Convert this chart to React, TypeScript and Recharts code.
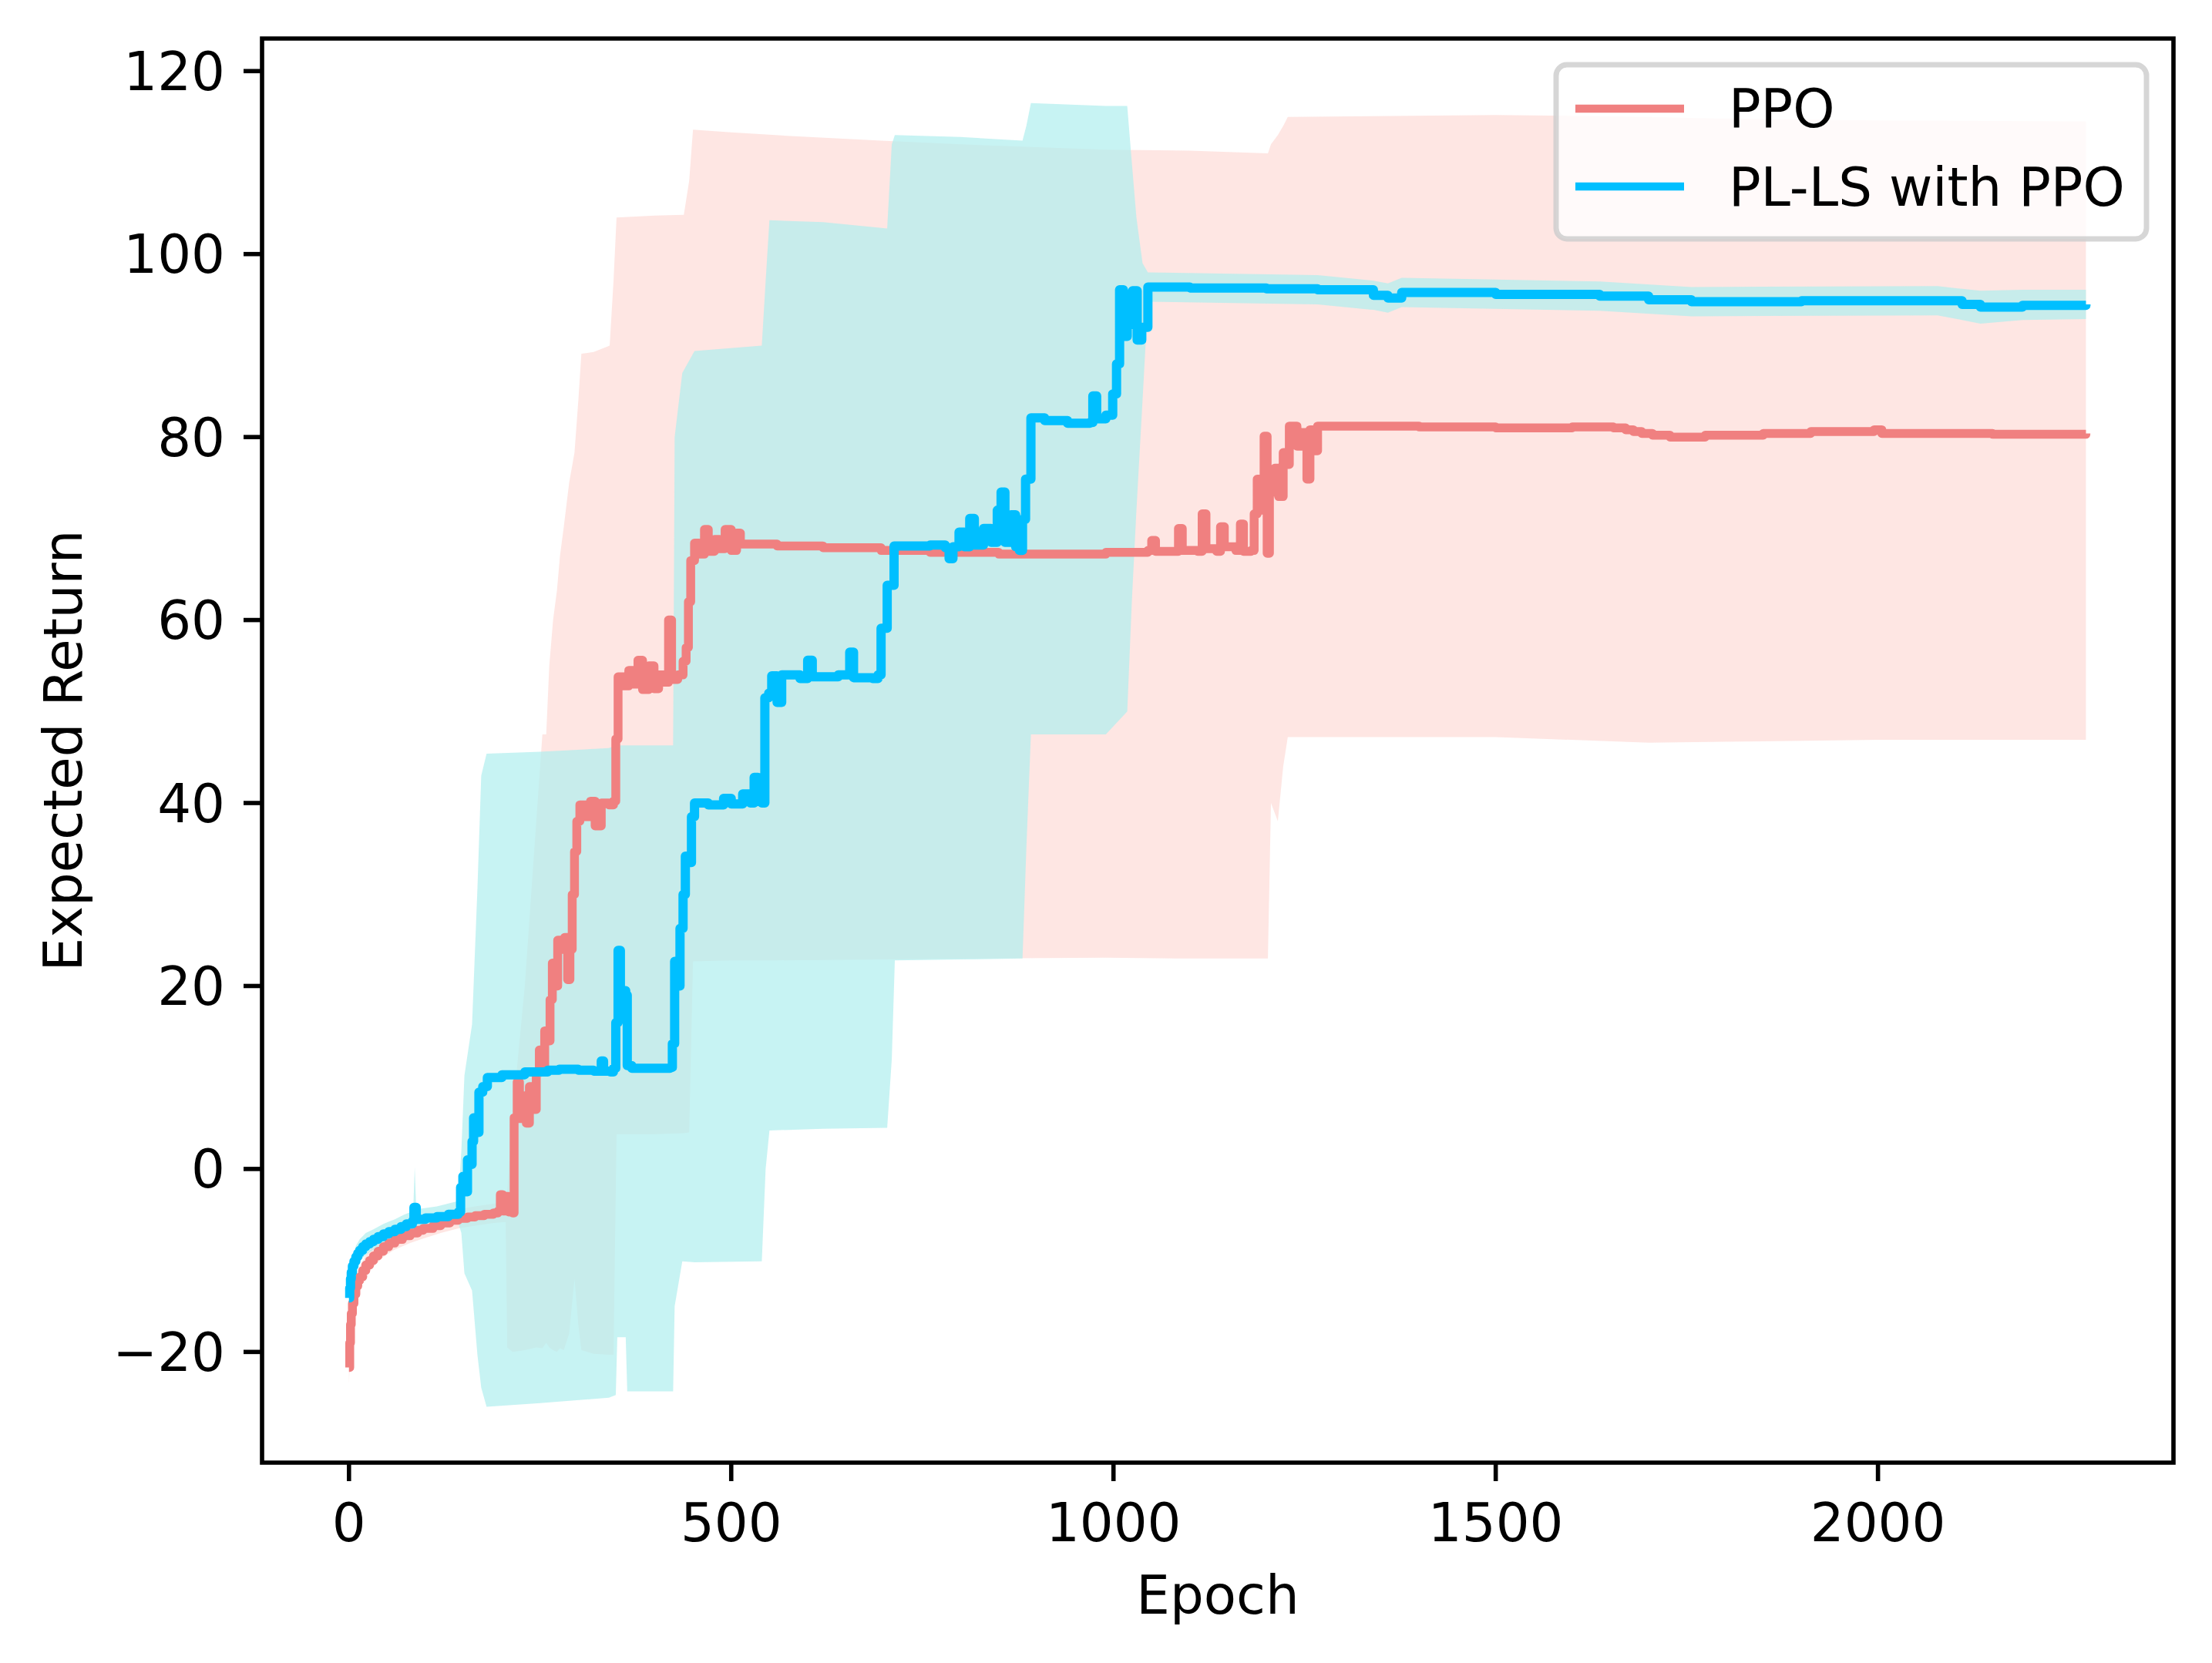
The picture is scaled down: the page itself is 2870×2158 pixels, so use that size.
import React from 'react';
import { ComposedChart, Area, Line, XAxis, YAxis, ReferenceArea, Legend } from 'recharts';

// mean return per epoch: [epoch, value]
const ppoMean: [number, number][] = [
  [0, -21.7], [1, -19], [2, -17], [3, -15.8], [4.5, -14.7], [6.5, -13.7], [9, -12.8], [11.5, -12.2],
  [14, -11.8], [18, -11.1], [22, -10.5], [27, -10.0], [32, -9.5], [38, -9.0], [45, -8.5], [52, -8.1],
  [60, -7.7], [70, -7.3], [80, -7.0], [90, -6.7], [97, -6.5], [110, -6.2], [120, -5.9], [132, -5.6],
  [143, -5.4], [155, -5.25], [165, -5.1], [177, -4.95], [189, -4.8], [195, -4.6],
  [198, -2.8], [201, -4.6], [206, -3.0], [209, -4.7], [214, -4.8], [216, 5.6], [220, 9.5], [223, 5.5],
  [228, 8.0], [232, 5.0], [236, 9.0], [241, 6.5], [245, 10.5], [249, 13.0], [253, 11.0], [256, 15.1],
  [259, 14.0], [263, 18.5], [266, 22.5], [269, 20.0], [273, 25.0], [278, 24.0], [282, 25.3], [286, 20.7],
  [289, 24.0], [292, 30.0], [295, 34.7], [298, 38.0], [302, 39.8], [310, 38.5], [316, 40.2], [322, 37.5],
  [330, 40.0], [340, 39.8], [346, 40.2], [349, 47.0], [352, 53.8], [360, 52.8], [366, 54.5], [372, 53.0],
  [378, 55.6], [384, 52.4], [392, 55.0], [399, 52.5], [405, 54.0], [412, 53.2], [418, 60.0], [422, 53.5],
  [430, 54.0], [437, 55.5], [441, 57.0], [444, 62.0], [447, 66.5], [452, 68.4], [458, 67.2], [465, 69.9],
  [470, 67.5], [478, 68.8], [485, 67.8], [492, 69.9], [500, 67.6], [507, 69.5], [512, 68.3], [560, 68.1],
  [620, 67.9], [696, 67.6], [760, 67.4], [850, 67.2], [990, 67.4], [1045, 67.6], [1050, 68.7], [1055, 67.5],
  [1080, 67.5], [1085, 70.0], [1090, 67.6], [1110, 67.5], [1116, 71.6], [1121, 67.8], [1135, 67.5],
  [1140, 70.2], [1145, 68.0], [1160, 67.6], [1166, 70.5], [1170, 67.5], [1180, 67.6], [1184, 71.6],
  [1188, 75.4], [1192, 72.0], [1197, 80.1], [1201, 67.3], [1204, 74.0], [1211, 76.6], [1216, 73.5],
  [1222, 78.3], [1226, 77.0], [1230, 81.2], [1240, 79.0], [1246, 80.5], [1253, 75.4], [1257, 80.8],
  [1263, 78.5], [1267, 81.2], [1400, 81.1], [1500, 81.0], [1600, 81.1], [1654, 81.0], [1670, 80.8],
  [1680, 80.6], [1691, 80.4], [1705, 80.2], [1728, 80.0], [1774, 80.2], [1850, 80.4], [1912, 80.6],
  [1995, 80.8], [2005, 80.4], [2150, 80.3], [2272, 80.4],
];

const plsMean: [number, number][] = [
  [0, -14.1], [1, -13], [2, -12], [3, -11.3], [4.5, -10.6], [6.5, -10.1], [9, -9.6], [11.5, -9.2],
  [14, -8.9], [18, -8.5], [22, -8.2], [27, -7.95], [32, -7.7], [38, -7.4], [45, -7.1], [52, -6.85],
  [60, -6.6], [68, -6.3], [75, -6.0], [83, -5.7], [85, -4.2], [88, -5.5], [100, -5.35], [115, -5.2],
  [130, -4.95], [143, -4.7], [146, -2.0],
  [149, -0.8], [152, -2.5], [155, 1.0], [158, 0.5], [161, 3.0], [163, 5.6], [166, 4.0], [170, 8.4],
  [175, 9.0], [181, 10.0], [200, 10.3], [230, 10.6], [260, 10.8], [275, 10.9], [300, 10.8], [320, 10.7],
  [330, 11.8], [333, 10.7], [342, 10.6], [346, 11.0], [349, 16.0], [352, 23.9], [355, 17.0], [358, 19.5],
  [362, 19.0], [364, 11.3], [370, 11.0], [395, 11.0], [420, 11.1], [423, 13.7], [426, 22.7], [430, 20.0],
  [433, 26.3], [437, 30.0], [440, 34.2], [444, 33.5], [448, 38.5], [452, 40.0], [470, 39.8], [490, 40.5],
  [500, 39.9], [515, 41.0], [525, 40.0], [530, 42.8], [535, 40.5], [540, 40.0], [544, 51.5], [549, 52.0],
  [553, 53.9], [560, 51.0], [566, 54.0], [590, 53.6], [600, 55.6], [606, 53.8], [640, 54.0], [655, 56.5],
  [660, 53.7], [685, 53.6], [692, 54.0], [696, 59.1], [704, 63.8], [713, 68.1], [760, 68.2], [780, 67.9],
  [785, 66.7], [790, 68.0], [798, 69.6], [805, 68.0], [812, 71.1], [818, 68.2], [830, 70.0], [840, 68.5],
  [848, 72.0], [853, 74.0], [858, 68.5], [866, 71.5], [872, 68.0], [877, 67.6], [881, 71.0], [885, 75.4],
  [892, 82.1], [910, 81.8], [940, 81.5], [969, 81.6], [973, 84.5], [978, 82.0], [990, 82.4], [999, 84.7],
  [1004, 88.0], [1008, 96.1], [1013, 91.0], [1018, 92.3], [1025, 96.0], [1031, 90.6], [1037, 92.0],
  [1045, 96.4], [1100, 96.3], [1200, 96.2], [1267, 96.1], [1340, 95.5], [1359, 95.2], [1377, 95.8],
  [1500, 95.6], [1636, 95.4], [1700, 95.0], [1756, 94.8], [1900, 94.9], [2078, 94.9], [2110, 94.5],
  [2134, 94.2], [2189, 94.4], [2272, 94.5],
];

// shaded spread: [epoch, low, high]
const ppoBand: [number, number, number][] = [
  [0, -23.5, -20.0], [2, -18.8, -15.4], [5, -16.3, -13.3], [9, -14.2, -11.6], [14, -13.0, -10.7],
  [22, -11.6, -9.4], [32, -10.7, -8.4], [45, -9.6, -7.5], [60, -8.8, -6.7], [80, -8.1, -6.0],
  [97, -7.6, -5.5], [120, -7.0, -4.9], [143, -6.5, -4.4], [165, -6.2, -4.1], [189, -5.9, -3.8],
  [205, -5.8, -3.6], [207, -19.5, -2.5],
  [214, -20.0, 6], [230, -19.8, 20], [245, -19.5, 38], [253, -19.6, 47.5], [258, -19.0, 47.5],
  [262, -19.5, 55], [267, -19.8, 60], [272, -20.0, 63.2], [276, -19.6, 67], [281, -19.8, 70.2],
  [288, -18.0, 75], [295, -12.0, 78.3], [300, -17.0, 84], [304, -19.8, 89.1], [320, -20.2, 89.3],
  [341, -20.3, 90.0], [346, -20.3, 97], [350, 3.8, 104.0], [400, 3.8, 104.2], [438, 3.9, 104.3],
  [445, 4.0, 108], [450, 22.7, 113.6], [500, 22.8, 113.3], [558, 22.8, 113.0], [696, 22.9, 112.4],
  [800, 23.0, 112.0], [990, 23.1, 111.4], [1100, 23.0, 111.3], [1202, 23.0, 111.0], [1206, 40, 112],
  [1215, 38, 113], [1222, 44, 114], [1228, 47.2, 115.0], [1500, 47.2, 115.2], [1700, 46.6, 115.0],
  [1800, 46.7, 114.8], [2000, 46.9, 114.6], [2272, 46.9, 114.5],
];

const plsBand: [number, number, number][] = [
  [0, -15.4, -12.8], [2, -13.3, -10.7], [5, -11.8, -9.4], [9, -10.8, -8.4], [14, -10.1, -7.7],
  [22, -9.4, -7.0], [32, -8.8, -6.6], [45, -8.2, -6.0], [60, -7.6, -5.5], [72, -7.2, -5.0],
  [84, -6.8, -4.6], [86, -6.8, 0.2], [88, -6.6, -4.4], [115, -6.3, -4.1], [143, -5.9, -3.5],
  [147, -7.0, 2.0], [151, -11.4, 10.2], [161, -13.3, 15.8], [168, -20.3, 30.6], [173, -23.9, 43.0],
  [180, -26.0, 45.4], [250, -25.6, 45.6], [340, -25.0, 46.0], [349, -24.7, 46.3], [351, -18.4, 46.3],
  [362, -18.4, 46.3], [364, -24.3, 46.3], [424, -24.3, 46.3], [426, -15.0, 80.0], [436, -10.1, 87.0],
  [452, -10.2, 89.4], [540, -10.1, 90.0], [545, 0.0, 97.0], [550, 4.2, 103.7], [620, 4.4, 103.5],
  [704, 4.5, 102.8], [710, 12.0, 112.0], [714, 22.8, 113.0], [800, 22.9, 112.8], [881, 23.0, 112.4],
  [886, 35.0, 114.0], [892, 47.5, 116.5], [990, 47.5, 116.2], [1018, 50.0, 116.2], [1024, 62.0, 110.0],
  [1030, 72.0, 104.0], [1038, 84.0, 99.0], [1045, 94.8, 98.0], [1267, 94.5, 97.7], [1340, 93.9, 97.1],
  [1359, 93.6, 96.8], [1377, 94.2, 97.4], [1636, 93.8, 97.0], [1756, 93.2, 96.4], [2078, 93.3, 96.5],
  [2110, 92.8, 96.2], [2134, 92.4, 96.0], [2189, 92.8, 96.1], [2272, 92.9, 96.1],
];

const xTicks = [0, 500, 1000, 1500, 2000];
const yTicks = [-20, 0, 20, 40, 60, 80, 100, 120];
const seriesNames = ['PPO', 'PL-LS with PPO'];

const X_DOMAIN: [number, number] = [-113.7, 2386.5];
const Y_DOMAIN: [number, number] = [-32.1, 123.56];

const PPO_COLOR = '#F08080';
const PLS_COLOR = '#00BFFF';
const FONT = 'DejaVu Sans';
const FS = 69;

const toLine = (pts: [number, number][]) => pts.map(([epoch, value]) => ({ epoch, value }));
const toBand = (pts: [number, number, number][]) => pts.map(([epoch, lo, hi]) => ({ epoch, range: [lo, hi] }));

const minus = (v: number) => String(v).replace('-', '\u2212');

const LegendBox = () => (
  <svg width={780} height={240} style={{ display: 'block' }}>
    <rect x={4} y={4} width={766} height={226} rx={14} fill="#fff" fillOpacity={0.8} stroke="#cccccc" strokeOpacity={0.8} strokeWidth={7} />
    <line x1={29} x2={170} y1={61} y2={61} stroke={PPO_COLOR} strokeWidth={10.4} />
    <line x1={29} x2={170} y1={162} y2={162} stroke={PLS_COLOR} strokeWidth={10.4} />
    <text x={228} y={85} fontFamily={FONT} fontSize={FS} fill="#000">{seriesNames[0]}</text>
    <text x={228} y={187} fontFamily={FONT} fontSize={FS} fill="#000">{seriesNames[1]}</text>
  </svg>
);

export default function App() {
  return (
    <div style={{ position: 'absolute', left: 0, top: 0, width: 2870, height: 2158, background: '#fff' }}>
      <ComposedChart width={2870} height={2158} margin={{ top: 50, right: 50, bottom: 0, left: 0 }}>
        <XAxis
          dataKey="epoch"
          type="number"
          domain={X_DOMAIN}
          allowDataOverflow
          ticks={xTicks}
          height={260}
          axisLine={false}
          tickSize={24}
          tickMargin={29}
          tickLine={{ stroke: '#000', strokeWidth: 5.6 }}
          tick={{ fill: '#000', fontSize: FS, fontFamily: FONT }}
          label={{
            content: () => (
              <text x={1580} y={2094} textAnchor="middle" fontFamily={FONT} fontSize={FS} fill="#000">Epoch</text>
            ),
          }}
        />
        <YAxis
          type="number"
          domain={Y_DOMAIN}
          allowDataOverflow
          ticks={yTicks}
          width={340}
          axisLine={false}
          tickSize={24}
          tickMargin={24}
          tickFormatter={minus}
          tickLine={{ stroke: '#000', strokeWidth: 5.6 }}
          tick={{ fill: '#000', fontSize: FS, fontFamily: FONT }}
          label={{
            content: () => (
              <text x={106} y={974} transform="rotate(-90, 106, 974)" textAnchor="middle" fontFamily={FONT} fontSize={FS} fill="#000">
                Expected Return
              </text>
            ),
          }}
        />
        <Area
          data={toBand(ppoBand)}
          dataKey="range"
          type="linear"
          fill="#FA8072"
          fillOpacity={0.2}
          stroke="none"
          isAnimationActive={false}
          legendType="none"
        />
        <Area
          data={toBand(plsBand)}
          dataKey="range"
          type="linear"
          fill="#AFEEEE"
          fillOpacity={0.7}
          stroke="none"
          isAnimationActive={false}
          legendType="none"
        />
        <Line
          data={toLine(ppoMean)}
          dataKey="value"
          name={seriesNames[0]}
          type="stepAfter"
          stroke={PPO_COLOR}
          strokeWidth={11.5}
          strokeLinejoin="round"
          dot={false}
          isAnimationActive={false}
        />
        <Line
          data={toLine(plsMean)}
          dataKey="value"
          name={seriesNames[1]}
          type="stepAfter"
          stroke={PLS_COLOR}
          strokeWidth={12}
          strokeLinejoin="round"
          dot={false}
          isAnimationActive={false}
        />
        <ReferenceArea
          x1={X_DOMAIN[0]}
          x2={X_DOMAIN[1]}
          y1={Y_DOMAIN[0]}
          y2={Y_DOMAIN[1]}
          fill="none"
          stroke="#000"
          strokeWidth={5.6}
        />
        <Legend
          layout="horizontal"
          verticalAlign="middle"
          align="center"
          wrapperStyle={{ left: 2015, top: 80, width: 780, height: 240 }}
          content={() => <LegendBox />}
        />
      </ComposedChart>
    </div>
  );
}
